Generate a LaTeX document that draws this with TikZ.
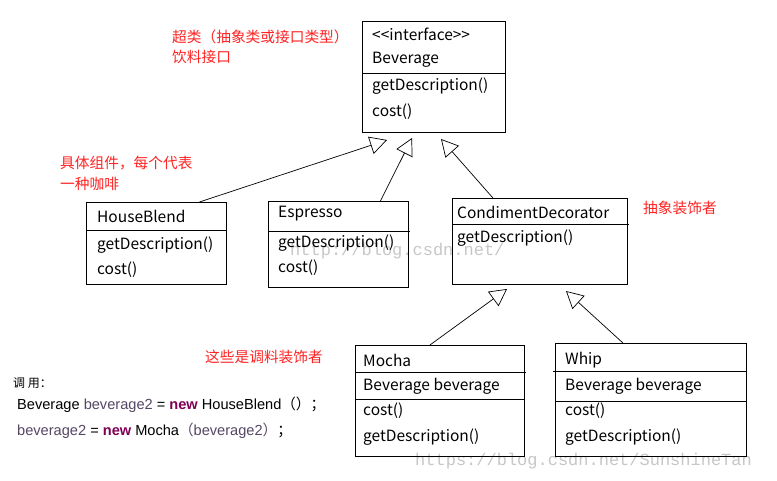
\documentclass[tikz,border=0pt]{standalone}
\usepackage{fontspec}
\setmainfont{Noto Sans CJK SC}
\newfontfamily\cjkf{Noto Sans CJK SC}
\newfontfamily\codefont{Liberation Sans}
\newfontfamily\wmfont{Liberation Mono}
\usetikzlibrary{arrows.meta,calc}
\definecolor{lblred}{RGB}{255,35,35}
\definecolor{kwcol}{RGB}{127,0,85}
\definecolor{varcol}{RGB}{85,70,100}
\begin{document}
\begin{tikzpicture}[x=1pt,y=-1pt,
  cls/.style={draw, line width=0.9pt, anchor=north west, inner sep=0pt},
  txt/.style={anchor=west, inner sep=0pt, font=\fontsize{15.5}{18}\selectfont},
  lbl/.style={anchor=west, inner sep=0pt, text=lblred, font=\fontsize{14.7}{17}\selectfont},
  code/.style={anchor=west, inner sep=0pt, font=\codefont\fontsize{14.6}{17}\selectfont},
  wm/.style={anchor=west, inner sep=0pt, text=black!22, font=\wmfont\fontsize{17}{20}\selectfont},
  inh/.style={-{Triangle[open,length=17pt,width=18pt]}, line width=0.7pt}]
\fill[white] (0,0) rectangle (777,481);
\useasboundingbox (0,0) rectangle (777,481);

% watermarks
\node[wm] (wm1) at (290,251) {http://blog.csdn.net/};
\node[wm] (wm2) at (415,461) {https://blog.csdn.net/SunshineTan};

% Beverage
\node[cls, minimum width=143pt, minimum height=111pt] (bev) at (362,21) {};
\draw[line width=0.9pt] (362,73) -- (505,73);
\node[txt] (bev1) at (372,34) {{<}{<}interface{>}{>}};
\node[txt] (bev2) at (372,60) {Beverage};
\node[txt] (bev3) at (372,86) {getDescription()};
\node[txt] (bev4) at (372,112) {cost()};

% HouseBlend
\node[cls, minimum width=140pt, minimum height=82pt] (hb) at (86,202) {};
\draw[line width=0.9pt] (86,230) -- (226,230);
\node[txt] (hb1) at (97,216) {HouseBlend};
\node[txt] (hb2) at (97,245) {getDescription()};
\node[txt] (hb3) at (97,270) {cost()};

% Espresso
\node[cls, minimum width=140pt, minimum height=86pt] (es) at (268,201) {};
\draw[line width=0.9pt] (268,231) -- (410,231);
\node[txt] (es1) at (278,214) {Espresso};
\node[txt] (es2) at (278,243) {getDescription()};
\node[txt] (es3) at (278,268) {cost()};

% CondimentDecorator
\node[cls, minimum width=175pt, minimum height=86pt] (cd) at (452,198) {};
\draw[line width=0.9pt] (452,224) -- (629,224);
\node[txt] (cd1) at (457,212) {CondimentDecorator};
\node[txt] (cd2) at (457,238) {getDescription()};

% Mocha
\node[cls, minimum width=169pt, minimum height=111pt] (mo) at (355,345) {};
\draw[line width=0.9pt] (355,372) -- (526,372);
\draw[line width=0.9pt] (355,399) -- (524,399);
\node[txt] (mo1) at (363,360) {Mocha};
\node[txt] (mo2) at (363,386) {Beverage beverage};
\node[txt] (mo3) at (363,411) {cost()};
\node[txt] (mo4) at (363,437) {getDescription()};

% Whip
\node[cls, minimum width=191pt, minimum height=113pt] (wh) at (555,343) {};
\draw[line width=0.9pt] (553,371) -- (746,371);
\draw[line width=0.9pt] (555,401) -- (746,401);
\node[txt] (wh1) at (565,360) {Whip};
\node[txt] (wh2) at (565,386) {Beverage beverage};
\node[txt] (wh3) at (565,411) {cost()};
\node[txt] (wh4) at (565,437) {getDescription()};

% inheritance connectors
\coordinate (t1) at (387,140);
\coordinate (t2) at (412,138);
\coordinate (t3) at (441,139);
\coordinate (t4) at (507,289);
\coordinate (t5) at (566,291);
\draw[inh] ([xshift=43pt]hb.north) -- (t1);
\draw[inh] ([xshift=42pt]es.north) -- (t2);
\draw[inh] ([xshift=-47pt]cd.north) -- (t3);
\draw[inh] ([xshift=-10pt]mo.north) -- (t4);
\draw[inh] ([xshift=-28pt]wh.north) -- (t5);

% red labels
\node[lbl] (l1) at (172,37) {超类（抽象类或接口类型）};
\node[lbl] (l2) at (172,57) {饮料接口};
\node[lbl] (l3) at (60,163) {具体组件，每个代表};
\node[lbl] (l4) at (60,184) {一种咖啡};
\node[lbl] (l5) at (643,208) {抽象装饰者};
\node[lbl] (l6) at (205,357) {这些是调料装饰者};

% usage code
\node[anchor=west, inner sep=0pt, font=\fontsize{12}{14}\selectfont] (c0) at (13,383) {调 用：};
\node[code] (c1) at (17,405) {Beverage \textcolor{varcol}{beverage2} = \textcolor{kwcol}{\bfseries new} HouseBlend{\cjkf （）；}};
\node[code] (c2) at (17,431) {\textcolor{varcol}{beverage2} = \textcolor{kwcol}{\bfseries new} Mocha{\cjkf\textcolor{varcol}{（}}\textcolor{varcol}{beverage2}{\cjkf\textcolor{varcol}{）}；}};
\end{tikzpicture}
\end{document}
